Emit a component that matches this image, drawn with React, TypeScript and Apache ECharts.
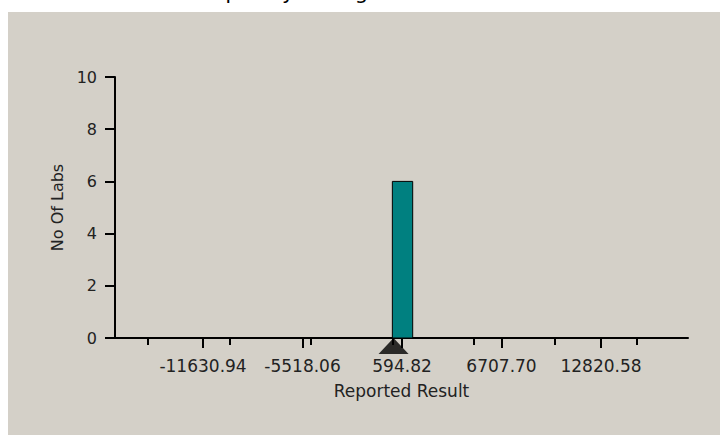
import React, { useEffect, useRef } from "react";
import * as echarts from "echarts";

// ---- data ----
const TITLE = "Frequency Histogram";
const X_NAME = "Reported Result";
const Y_NAME = "No Of Labs";
const X_MIN = -17040;
const X_MAX = 18165;
const LABEL_TICKS = [-11630.94, -5518.06, 594.82, 6707.7, 12820.58];
const BIN_TICKS = [-15000, -10000, -5000, 0, 5000, 10000, 15000];
const BIN_START = [0];
const BIN_END = [1250];
const BIN_COUNT = [6];
const TARGET_VALUE = [75];
const Y_MIN = 0;
const Y_MAX = 10;
const Y_STEP = 2;

const FONT = "DejaVu Sans";
const PANEL = "#d4d0c8";

export default function App() {
  const ref = useRef<HTMLDivElement>(null);

  useEffect(() => {
    if (!ref.current) return;
    const chart = echarts.init(ref.current, undefined, { renderer: "svg" });
    const bars = BIN_START.map((s, i) => [s, BIN_END[i], BIN_COUNT[i]]);
    const option: any = {
      animation: false,
      backgroundColor: PANEL,
      textStyle: { fontFamily: FONT },
      graphic: [
        { type: "rect", shape: { x: 0, y: 0, width: 720, height: 12 }, style: { fill: "#ffffff" }, silent: true },
        { type: "rect", shape: { x: 0, y: 0, width: 8, height: 435 }, style: { fill: "#ffffff" }, silent: true },
        {
          type: "text",
          x: 186,
          y: 2,
          style: {
            text: TITLE,
            fill: "#000",
            font: `21px "${FONT}"`,
            verticalAlign: "bottom",
            align: "left",
          },
          silent: true,
        },
      ],
      grid: { left: 115, right: 32, top: 77, bottom: 97, containLabel: false },
      xAxis: [
        {
          type: "value",
          min: X_MIN,
          max: X_MAX,
          position: "bottom",
          name: X_NAME,
          nameLocation: "middle",
          nameGap: 44,
          nameTextStyle: { fontSize: 17, color: "#222", fontFamily: FONT },
          axisLine: { show: true, onZero: false, lineStyle: { color: "#000", width: 2 } },
          axisTick: { show: true, customValues: LABEL_TICKS, length: 10, lineStyle: { color: "#000", width: 2 } },
          axisLabel: {
            show: true,
            customValues: LABEL_TICKS,
            formatter: (v: number) => v.toFixed(2),
            fontSize: 17,
            color: "#222",
            fontFamily: FONT,
            margin: 19,
          },
          splitLine: { show: false },
        },
        {
          type: "value",
          min: X_MIN,
          max: X_MAX,
          position: "bottom",
          offset: 0,
          axisLine: { show: false, onZero: false },
          axisTick: { show: true, customValues: BIN_TICKS, length: 7, lineStyle: { color: "#000", width: 2 } },
          axisLabel: { show: false },
          splitLine: { show: false },
        },
      ],
      yAxis: {
        type: "value",
        min: Y_MIN,
        max: Y_MAX,
        interval: Y_STEP,
        position: "left",
        name: Y_NAME,
        nameLocation: "middle",
        nameGap: 47,
        nameTextStyle: { fontSize: 16, color: "#222", fontFamily: FONT },
        axisLine: { show: true, onZero: false, lineStyle: { color: "#000", width: 2 } },
        axisTick: { show: true, length: 10, lineStyle: { color: "#000", width: 2 } },
        axisLabel: { fontSize: 16, color: "#222", fontFamily: FONT, margin: 18 },
        splitLine: { show: false },
      },
      series: [
        {
          type: "custom",
          xAxisIndex: 0,
          yAxisIndex: 0,
          data: bars,
          encode: { x: [0, 1], y: 2 },
          renderItem: (params: any, api: any) => {
            const p0 = api.coord([api.value(0), api.value(2)]);
            const p1 = api.coord([api.value(1), 0]);
            return {
              type: "rect",
              shape: { x: p0[0], y: p0[1], width: p1[0] - p0[0], height: p1[1] - p0[1] },
              style: { fill: "#008080", stroke: "#000", lineWidth: 1 },
            };
          },
          z: 3,
        },
        {
          type: "scatter",
          xAxisIndex: 0,
          yAxisIndex: 0,
          data: TARGET_VALUE.map((v) => [v, 0]),
          symbol: "triangle",
          symbolSize: [30, 16],
          symbolOffset: [0, 8],
          itemStyle: { color: "#000" },
          clip: false,
          z: 4,
        },
      ],
    };
    chart.setOption(option);
    return () => chart.dispose();
  }, []);

  return (
    <div
      ref={ref}
      style={{ position: "absolute", left: 0, top: 0, width: 720, height: 435 }}
    />
  );
}
